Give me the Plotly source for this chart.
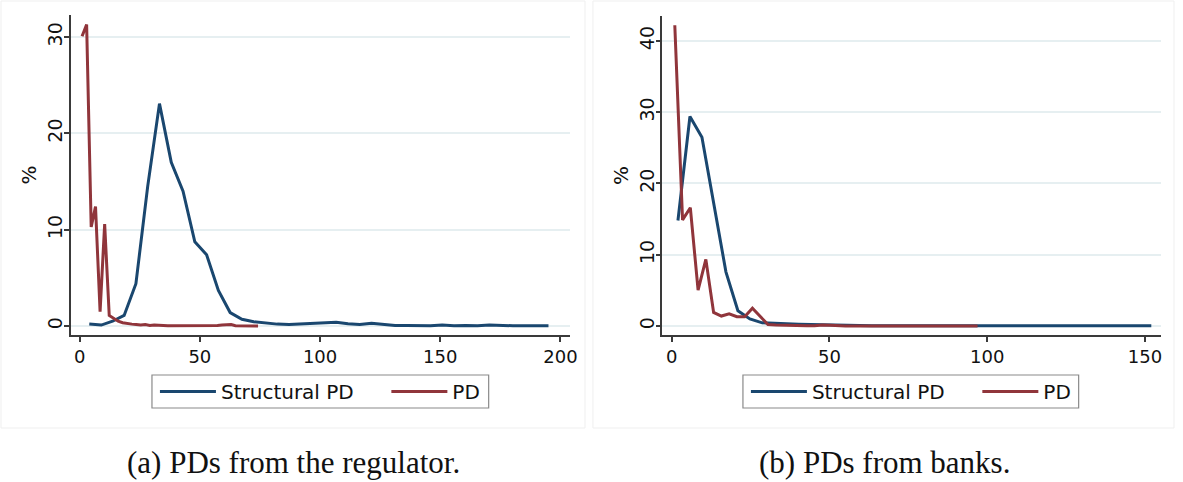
import plotly.graph_objects as go

# ---------------- data ----------------
# Panel (a): PDs from the regulator
reg_struct_x = [4, 9, 13.7, 18.5, 23.4, 28.3, 33.2, 38.1, 43, 47.9, 52.8, 57.7, 62.6, 67.5, 72.4,
                77.3, 82.2, 87.1, 92, 96.9, 101.8, 106.7, 111.6, 116.5, 121.4, 126.3, 131.2, 136.1,
                141, 145.9, 150.8, 155.7, 160.6, 165.5, 170.4, 175.3, 180.2, 185.1, 190, 195]
reg_struct_y = [0.2, 0.1, 0.5, 1.1, 4.4, 14.5, 23.1, 17.0, 14.0, 8.75, 7.4, 3.7, 1.4, 0.7, 0.45,
                0.3, 0.2, 0.15, 0.2, 0.3, 0.35, 0.4, 0.25, 0.15, 0.3, 0.15, 0.05, 0.05,
                0.05, 0.03, 0.12, 0.03, 0.05, 0.03, 0.1, 0.05, 0.03, 0.03, 0.05, 0.03]
reg_pd_x = [1.0, 2.9, 4.8, 6.6, 8.5, 10.4, 12.3, 14.1, 16.0, 17.9, 19.8, 21.7, 23.5, 25.4, 27.3,
            29.2, 31.0, 32.9, 34.8, 36.7, 38.6, 40.4, 42.3, 44.2, 46.1, 47.9, 49.8, 51.7, 53.6,
            55.5, 57.3, 59.2, 61.1, 63.0, 64.8, 66.7, 68.6, 70.5, 72.4, 74.2]
reg_pd_y = [30.1, 31.3, 10.3, 12.4, 1.5, 10.6, 1.1, 0.8, 0.5, 0.35, 0.25, 0.2, 0.15, 0.1, 0.15,
            0.05, 0.1, 0.05, 0.05, 0.03, 0.03, 0.02, 0.02, 0.02, 0.02, 0.02, 0.02, 0.02, 0.02,
            0.02, 0.05, 0.1, 0.12, 0.15, 0.03, 0.02, 0.01, 0.01, 0.01, 0.01]

# Panel (b): PDs from banks
bank_struct_x = [2.0, 5.8, 9.6, 13.4, 17.2, 21.0, 24.8, 28.7, 32.6, 36.4, 40.3, 44.1, 48.0, 51.8,
                 55.7, 59.5, 63.4, 67.2, 71.1, 74.9, 78.8, 82.6, 86.5, 90.3, 94.2, 98.0, 101.9,
                 105.7, 109.6, 113.4, 117.3, 121.1, 125.0, 128.8, 132.7, 136.5, 140.4, 144.2,
                 148.1, 152.0]
bank_struct_y = [14.8, 29.4, 26.5, 17.0, 7.6, 2.15, 1.0, 0.45, 0.35, 0.3, 0.25, 0.2, 0.15, 0.15,
                 0.1, 0.1, 0.05, 0.05, 0.05, 0.05, 0.05, 0.05, 0.05, 0.05, 0.05, 0.05, 0.05,
                 0.08, 0.1, 0.12, 0.1, 0.08, 0.05, 0.05, 0.03, 0.03, 0.03, 0.03, 0.03, 0.03]
bank_pd_x = [1.0, 3.46, 5.92, 8.38, 10.84, 13.3, 15.76, 18.22, 20.68, 23.14, 25.6, 28.06, 30.52,
             32.98, 35.44, 37.9, 40.36, 42.82, 45.28, 47.74, 50.2, 52.66, 55.12, 57.58, 60.04,
             62.5, 64.96, 67.42, 69.88, 72.34, 74.8, 77.26, 79.72, 82.18, 84.64, 87.1, 89.56,
             92.02, 94.48, 96.94]
bank_pd_y = [42.2, 14.9, 16.6, 5.05, 9.35, 1.9, 1.4, 1.7, 1.3, 1.3, 2.5, 1.4, 0.2, 0.15, 0.1,
             0.1, 0.1, 0.05, 0.05, 0.15, 0.1, 0.02, 0.02, 0.02, 0.02, 0.02, 0.02, 0.02, 0.02,
             0.02, 0.02, 0.02, 0.02, 0.02, 0.02, 0.02, 0.02, 0.02, 0.02, 0.02]

series_names = ["Structural PD", "PD"]
captions = ["(a) PDs from the regulator.", "(b) PDs from banks."]
left_xticks = [0, 50, 100, 150, 200]
right_xticks = [0, 50, 100, 150]
left_yticks = [0, 10, 20, 30]
right_yticks = [0, 10, 20, 30, 40]

# ---------------- style ----------------
W, H = 1183, 482
BLUE = "#1a476f"
RED = "#90353b"
GRID = "#e6eff1"
AXC = "#3a3a3a"
SANS = "DejaVu Sans"


def px(x):
    return x / W


def py(y):
    return (H - y) / H


fig = go.Figure()
fig.add_trace(go.Scatter(x=reg_struct_x, y=reg_struct_y, mode="lines", name=series_names[0],
                         line=dict(color=BLUE, width=3), xaxis="x", yaxis="y", legend="legend"))
fig.add_trace(go.Scatter(x=reg_pd_x, y=reg_pd_y, mode="lines", name=series_names[1],
                         line=dict(color=RED, width=3), xaxis="x", yaxis="y", legend="legend2"))
fig.add_trace(go.Scatter(x=bank_struct_x, y=bank_struct_y, mode="lines", name=series_names[0],
                         line=dict(color=BLUE, width=3), xaxis="x2", yaxis="y2", legend="legend3"))
fig.add_trace(go.Scatter(x=bank_pd_x, y=bank_pd_y, mode="lines", name=series_names[1],
                         line=dict(color=RED, width=3), xaxis="x2", yaxis="y2", legend="legend4"))

xcommon = dict(showline=True, linecolor=AXC, linewidth=1.5, ticks="outside", ticklen=5,
               tickcolor=AXC, tickwidth=1.5, showgrid=False, zeroline=False,
               tickfont=dict(family=SANS, size=18, color="#111"))
ycommon = dict(showline=True, linecolor=AXC, linewidth=1.5, ticks="outside", ticklen=5,
               tickcolor=AXC, tickwidth=1.5, showgrid=True, gridcolor=GRID, gridwidth=1.5,
               zeroline=False, tickangle=-90, ticklabelstandoff=-6,
               tickfont=dict(family=SANS, size=19, color="#111"),
               title=dict(text="%", font=dict(family=SANS, size=20, color="#111"), standoff=2))

legcommon = dict(orientation="h", xanchor="left", yanchor="middle", bgcolor="rgba(0,0,0,0)",
                 borderwidth=0, font=dict(family=SANS, size=20, color="#111"), itemwidth=56)

LEG_Y = py(391.5)
fig.update_layout(
    width=W, height=H, margin=dict(l=0, r=0, t=0, b=0),
    paper_bgcolor="white", plot_bgcolor="white",
    xaxis=dict(domain=[px(71), px(574)], range=[-3.8, 204], tickvals=left_xticks, anchor="y", **xcommon),
    yaxis=dict(domain=[py(335), py(15)], range=[-0.93, 32.3], tickvals=left_yticks, anchor="x", **ycommon),
    xaxis2=dict(domain=[px(667), px(1169)], range=[-2.9, 155.1], tickvals=right_xticks, anchor="y2", **xcommon),
    yaxis2=dict(domain=[py(335), py(16)], range=[-1.26, 43.5], tickvals=right_yticks, anchor="x2", **ycommon),
    legend=dict(x=px(156), y=LEG_Y, **legcommon),
    legend2=dict(x=px(389), y=LEG_Y, **legcommon),
    legend3=dict(x=px(751), y=LEG_Y, **legcommon),
    legend4=dict(x=px(984), y=LEG_Y, **legcommon),
    showlegend=True,
)

# panel frames
for x0, x1 in [(1, 589), (597, 1182)]:
    fig.add_shape(type="rect", xref="paper", yref="paper", x0=px(x0), x1=px(x1), y0=py(428), y1=py(1),
                  line=dict(color="#efefef", width=1), layer="below")
# legend frames
for x0, x1 in [(153, 492), (748, 1086)]:
    fig.add_shape(type="rect", xref="paper", yref="paper", x0=px(x0), x1=px(x1), y0=py(408), y1=py(375),
                  line=dict(color="#8a8a8a", width=1.2), fillcolor="white", layer="below")

# captions
for cap, cx in zip(captions, [295, 891]):
    fig.add_annotation(text=cap, xref="paper", yref="paper", x=px(cx), y=py(462),
                       showarrow=False, xanchor="center", yanchor="middle",
                       font=dict(family="Liberation Serif", size=31, color="#111"))

fig.write_html("out.html")
